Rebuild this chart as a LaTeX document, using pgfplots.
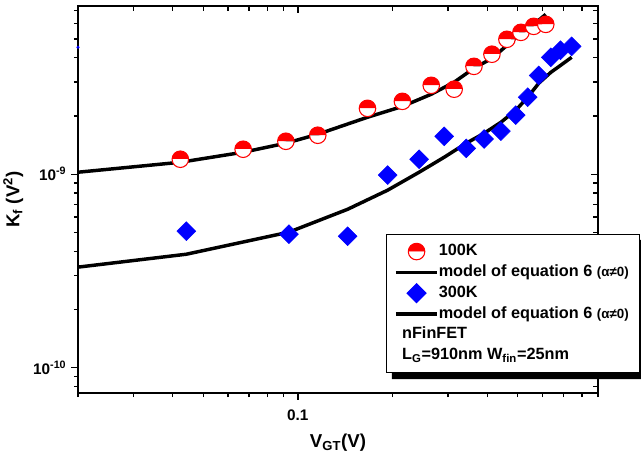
\documentclass[border=0pt]{standalone}
\usepackage{fontspec}
\setmainfont{Liberation Sans}
\usepackage{pgfplots}
\pgfplotsset{compat=1.18}
\usetikzlibrary{plotmarks}

\begin{document}
\begin{tikzpicture}[font=\bfseries]
% mirrored ticks on top and right, pointing inwards
\begin{axis}[
  xmode=log, ymode=log,
  scale only axis, width=390pt, height=290.25pt,
  xmin=0.02, xmax=0.9, ymin=7.4e-11, ymax=7.4e-9,
  xtick={0.1}, ytick={1e-10,1e-9},
  minor xtick={0.02,0.03,0.04,0.05,0.06,0.07,0.08,0.09,0.2,0.3,0.4,0.5,0.6,0.7,0.8,0.9},
  minor ytick={8e-11,9e-11,2e-10,3e-10,4e-10,5e-10,6e-10,7e-10,8e-10,9e-10,2e-9,3e-9,4e-9,5e-9,6e-9,7e-9},
  axis line style={line width=1.3pt},
  every tick/.style={black, line width=1pt},
  major tick length=5.5pt, minor tick length=3.5pt,
  xtick pos=right, ytick pos=right, tick align=inside,
  xticklabels={}, yticklabels={},
]
\end{axis}
\begin{axis}[
  xmode=log, ymode=log,
  scale only axis, width=390pt, height=290.25pt,
  xmin=0.02, xmax=0.9, ymin=7.4e-11, ymax=7.4e-9,
  xtick={0.1}, ytick={1e-10,1e-9},
  minor xtick={0.02,0.03,0.04,0.05,0.06,0.07,0.08,0.09,0.2,0.3,0.4,0.5,0.6,0.7,0.8,0.9},
  minor ytick={8e-11,9e-11,2e-10,3e-10,4e-10,5e-10,6e-10,7e-10,8e-10,9e-10,2e-9,3e-9,4e-9,5e-9,6e-9,7e-9},
  axis line style={line width=1.3pt},
  every tick/.style={black, line width=1pt},
  major tick length=5.2pt, minor tick length=3pt,
  xtick pos=left, ytick pos=left, tick align=outside,
  xticklabel style={yshift=-3.5pt},
  xticklabels={{\fontsize{11.5}{13}\selectfont 0.1}},
  yticklabels={{\fontsize{11.5}{13}\selectfont 10\textsuperscript{-10}},{\fontsize{11.5}{13}\selectfont 10\textsuperscript{-9}}},
  xlabel={\fontsize{14}{16}\selectfont V\textsubscript{GT}(V)},
  ylabel={\fontsize{14}{16}\selectfont K\textsubscript{f} (V\textsuperscript{2})},
  every axis x label/.style={at={([yshift=-37.5pt]axis description cs:0.5,0)}, anchor=center},
  every axis y label/.style={at={([xshift=-48.5pt]axis description cs:0,0.5)}, rotate=90, anchor=center},
  legend image code/.code={\draw[mark repeat=2,mark phase=2,#1] plot coordinates {(0pt,0pt) (15.5pt,0pt) (31pt,0pt)};},
  legend cell align=left,
  legend style={name=kfleg, at={(axis description cs:0.592,0.411)}, anchor=north west,
    draw=black, line width=0.8pt, fill=white,
    font=\fontsize{12.2}{14}\selectfont\bfseries,
    inner xsep=6pt, inner ysep=5pt, row sep=0pt,
    nodes={inner xsep=0pt, inner ysep=2.25pt, text height=8.6pt, text depth=2.5pt}},
]
% 100 K
\addplot[only marks, mark=halfcircle*, mark size=6.2pt,
  mark options={draw=red, fill=red, line width=0.8pt}] coordinates {
  (0.0423,1.195e-9) (0.0670,1.346e-9) (0.0916,1.48e-9) (0.1157,1.59e-9)
  (0.1665,2.19e-9) (0.215,2.38e-9) (0.2655,2.88e-9) (0.314,2.75e-9)
  (0.363,3.61e-9) (0.414,4.17e-9) (0.462,4.98e-9) (0.512,5.41e-9)
  (0.562,5.81e-9) (0.614,5.95e-9)
};
\addlegendentry{100K}
\addplot[black, line width=2.6pt, no marks, legend image post style={line width=2.3pt}] coordinates {
  (0.02,1.024e-9) (0.0423,1.153e-9) (0.067,1.299e-9) (0.0916,1.446e-9)
  (0.1157,1.609e-9) (0.1665,1.97e-9) (0.215,2.24e-9) (0.2655,2.59e-9)
  (0.314,2.99e-9) (0.363,3.53e-9) (0.414,3.97e-9) (0.462,4.63e-9)
  (0.512,5.35e-9) (0.562,5.95e-9) (0.614,6.70e-9)
};
\addlegendentry{model of equation 6 {\fontsize{10}{12}\selectfont(α≠0)}\hspace*{2pt}}
% 300 K
\addplot[only marks, mark=square*, mark size=5pt, color=blue,
  mark options={rotate=45, draw=blue, fill=blue}] coordinates {
  (0.0442,5.08e-10) (0.0937,4.90e-10) (0.144,4.78e-10) (0.193,0.99e-9)
  (0.243,1.195e-9) (0.292,1.57e-9) (0.343,1.36e-9) (0.391,1.52e-9)
  (0.442,1.67e-9) (0.493,2.02e-9) (0.538,2.50e-9) (0.583,3.24e-9)
  (0.637,4.02e-9) (0.684,4.37e-9) (0.742,4.58e-9)
};
\addlegendentry{300K}
\addplot[black, line width=2.6pt, no marks, legend image post style={line width=2.3pt}] coordinates {
  (0.02,3.31e-10) (0.0442,3.86e-10) (0.0937,5.02e-10) (0.144,6.59e-10)
  (0.193,8.27e-10) (0.243,1.024e-9) (0.292,1.224e-9) (0.343,1.446e-9)
  (0.391,1.628e-9) (0.442,1.855e-9) (0.493,2.14e-9) (0.538,2.50e-9)
  (0.583,2.95e-9) (0.637,3.36e-9) (0.684,3.65e-9) (0.742,4.02e-9)
};
\addlegendentry{model of equation 6 {\fontsize{10}{12}\selectfont(α≠0)}\hspace*{2pt}}
\addlegendimage{empty legend}
\addlegendentry{\hspace*{-27.5pt}nFinFET}
\addlegendimage{empty legend}
\addlegendentry{\hspace*{-27.5pt}L\textsubscript{G}=910nm W\textsubscript{fin}=25nm}
% stray point at the left edge
\addplot[only marks, mark=*, mark size=1pt, blue, forget plot] coordinates {(0.02,4.53e-9)};
\end{axis}
% legend shadow, bottom and right
\fill[black] ([xshift=4.5pt]kfleg.south west) -- ([xshift=4.5pt,yshift=-4.5pt]kfleg.south west)
  -- ([xshift=4.5pt,yshift=-4.5pt]kfleg.south east) -- ([xshift=4.5pt,yshift=-4.5pt]kfleg.north east)
  -- ([yshift=-4.5pt]kfleg.north east) -- (kfleg.south east) -- cycle;
\pgfresetboundingbox
\path[use as bounding box] (-58.5pt,-49.5pt) rectangle (422.25pt,294.75pt);
\end{tikzpicture}
\end{document}
